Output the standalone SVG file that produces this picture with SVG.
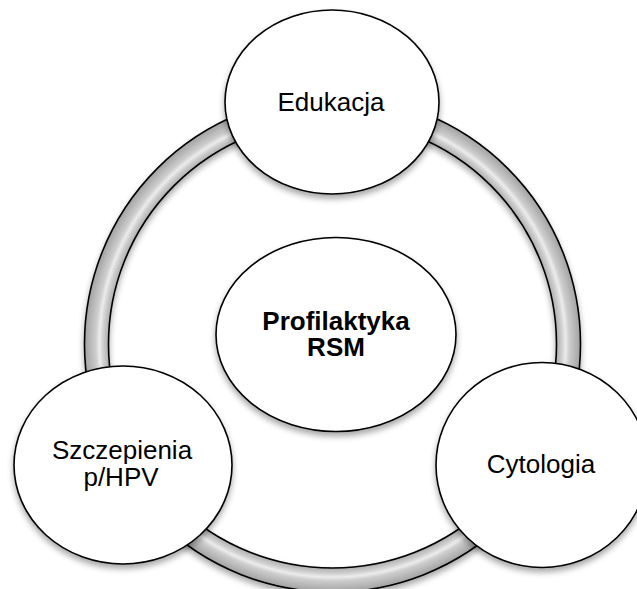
<svg xmlns="http://www.w3.org/2000/svg" width="637" height="589" viewBox="0 0 637 589">
  <style>
    .node { fill: #ffffff; stroke: #000000; stroke-width: 1.6; filter: url(#shadow); }
    .label { font-family: "Liberation Sans", Arial, sans-serif; font-size: 26px; fill: #000000; text-anchor: middle; }
    .bold { font-weight: bold; }
  </style>
  <defs>
    <filter id="shadow" x="-20%" y="-20%" width="140%" height="150%">
      <feGaussianBlur in="SourceAlpha" stdDeviation="3"/>
      <feOffset dx="0" dy="4" result="b"/>
      <feComponentTransfer><feFuncA type="linear" slope="0.35"/></feComponentTransfer>
      <feMerge><feMergeNode/><feMergeNode in="SourceGraphic"/></feMerge>
    </filter>
    <radialGradient id="tube" gradientUnits="userSpaceOnUse" cx="332.5" cy="344" r="248">
      <stop offset="0.9" stop-color="#a9a9a9"/>
      <stop offset="0.925" stop-color="#cfcfcf"/>
      <stop offset="0.94" stop-color="#ececec"/>
      <stop offset="0.955" stop-color="#cdcdcd"/>
      <stop offset="1" stop-color="#a2a2a2"/>
    </radialGradient>
  </defs>
  <rect width="637" height="589" fill="#ffffff"/>
  <g id="connectors">
    <path d="M 84.5 344 A 248 248 0 1 0 580.5 344 A 248 248 0 1 0 84.5 344 Z M 108.5 344 A 224 224 0 1 1 556.5 344 A 224 224 0 1 1 108.5 344 Z" fill="url(#tube)" fill-rule="evenodd" stroke="#000000" stroke-width="1.6" filter="url(#shadow)"/>
  </g>
  <g id="node-center">
    <ellipse class="node" cx="336" cy="334.5" rx="120" ry="97"/>
    <text class="label bold" x="336" y="329.5">Profilaktyka</text>
    <text class="label bold" x="336" y="356">RSM</text>
  </g>
  <g id="node-edukacja">
    <ellipse class="node" cx="332" cy="102" rx="107" ry="92"/>
    <text class="label" x="331" y="111">Edukacja</text>
  </g>
  <g id="node-szczepienia">
    <ellipse class="node" cx="123" cy="465" rx="109" ry="99"/>
    <text class="label" x="122" y="459">Szczepienia</text>
    <text class="label" x="121" y="486">p/HPV</text>
  </g>
  <g id="node-cytologia">
    <ellipse class="node" cx="542" cy="465" rx="106" ry="102.5"/>
    <text class="label" x="541" y="473">Cytologia</text>
  </g>
</svg>
